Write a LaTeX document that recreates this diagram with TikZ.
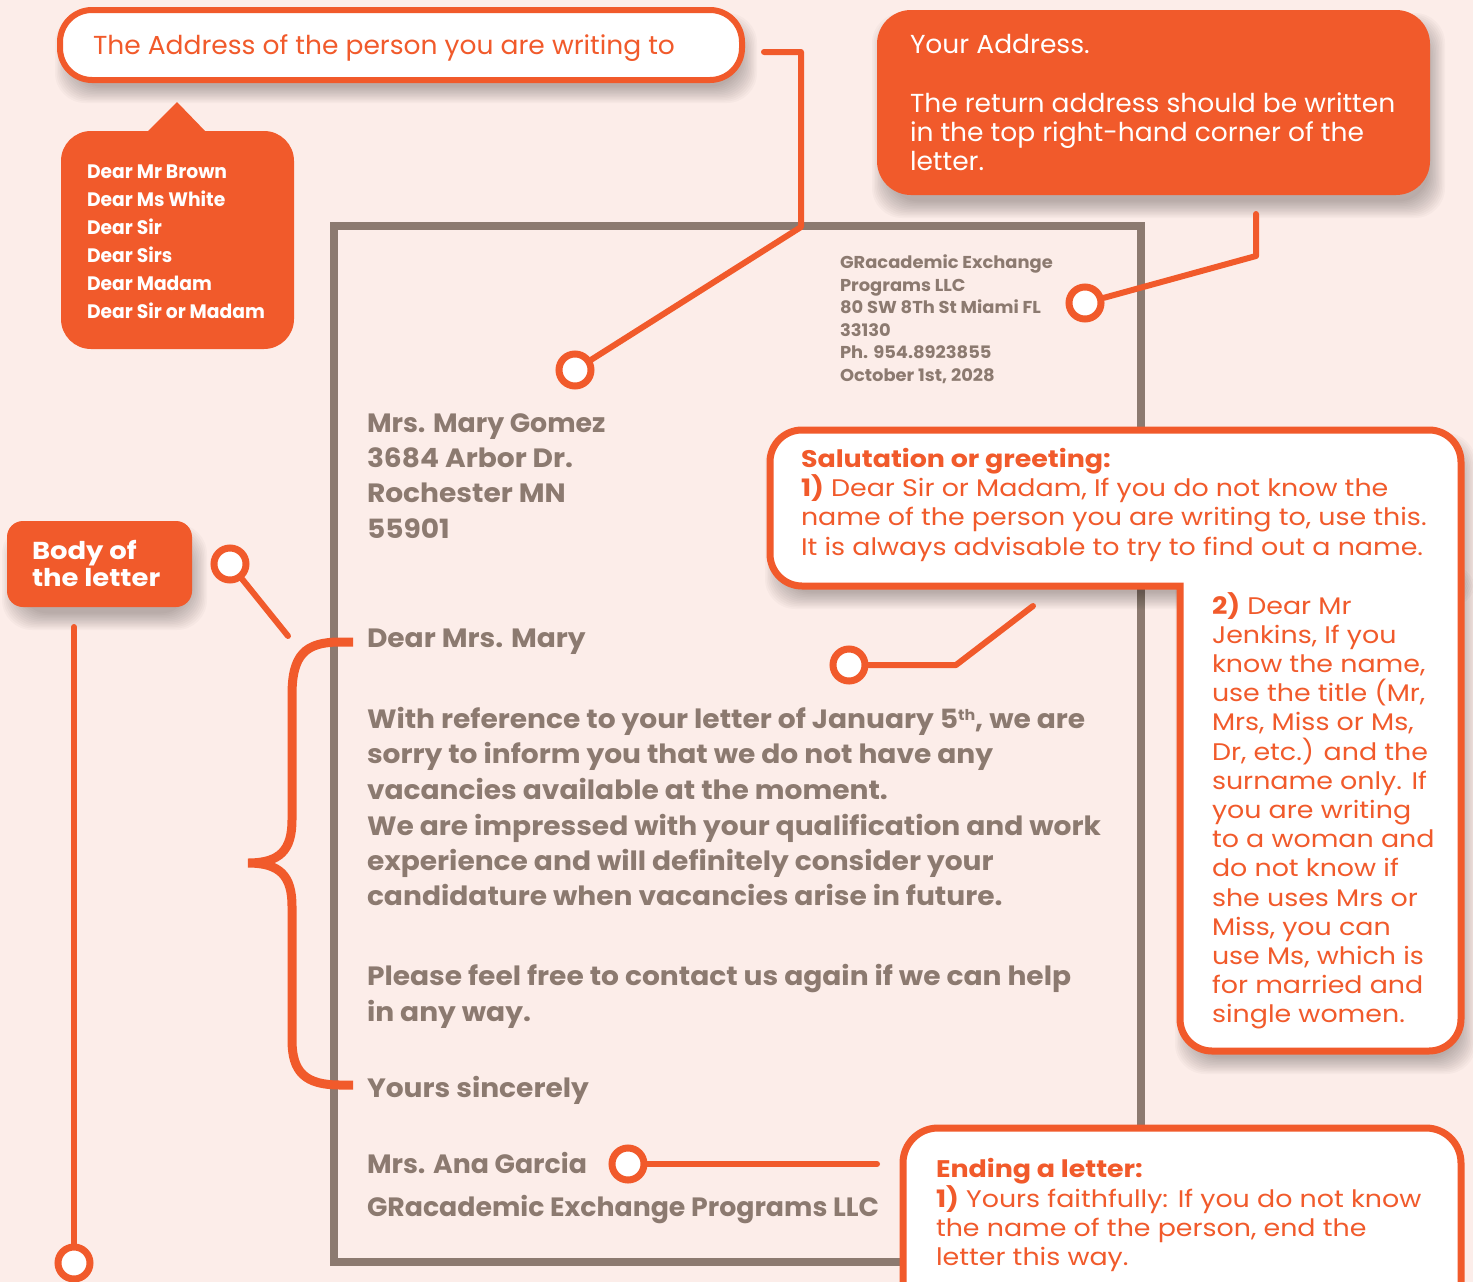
\documentclass[tikz,border=0pt]{standalone}
\usepackage{fontspec}
\setmainfont{Poppins}
\newfontfamily\regf{Poppins}[FakeStretch=1.02]
\newfontfamily\notef{Poppins}[FakeStretch=1.12]
\newfontfamily\letf{Poppins}[FakeStretch=1.06]
\newfontfamily\letn{Poppins}[FakeStretch=1.01]
\newfontfamily\smallf{Poppins}[FakeStretch=1.04]
\newfontfamily\condf{Poppins}[FakeStretch=0.96]
\newfontfamily\labf{Poppins}[FakeStretch=1.12]
\definecolor{bg}{HTML}{FCEDE9}
\definecolor{org}{HTML}{F15A2B}
\definecolor{gry}{HTML}{8C7A70}
\newcommand\fsz[2]{\fontsize{#1}{#2}\selectfont}
\newcommand\supth{{\fsz{15}{15}\raisebox{8pt}{th}}}
% soft drop shadow made of stacked translucent rounded rectangles
\newcommand\softshadow[4]{%
  \foreach \k in {0,...,11}
    \fill[black,opacity=0.024,rounded corners=30pt]
      ({#1-10+1.5*\k+5},{#2-10+1.5*\k+13}) rectangle ({#3+10-1.5*\k+5},{#4+10-1.5*\k+13});}
\begin{document}
\begin{tikzpicture}[x=1pt,y=-1pt,
  txt/.style={anchor=base west,inner sep=0pt,outer sep=0pt},
  dot/.style={circle,draw=org,fill=white,line width=7pt,minimum size=32pt,inner sep=0pt},
  conn/.style={draw=org,line width=6pt,line cap=round,line join=round},
  lettertxt/.style={txt,text=gry,font=\letf\bfseries\fsz{26.5}{30}},
  letternarrow/.style={txt,text=gry,font=\letn\bfseries\fsz{26.5}{30}},
  smalltxt/.style={txt,text=gry,font=\smallf\bfseries\fsz{17.2}{20}},
  notetxt/.style={txt,text=org,font=\notef\fsz{24}{28}},
  whitetxt/.style={txt,text=white,font=\regf\fsz{26}{30}},
  listtxt/.style={txt,text=white,font=\condf\bfseries\fsz{19.5}{22}}]
\useasboundingbox (0,0) rectangle (1473,1282);
\fill[bg] (0,0) rectangle (1473,1282);

% letter frame
\draw[gry,line width=8pt] (334,226) rectangle (1141,1262);

% shadows
\softshadow{60}{10}{742}{80}
\softshadow{877}{10}{1430}{195}
\softshadow{770}{430}{1461}{586}
\softshadow{1180}{560}{1461}{1051}
\softshadow{7}{521}{192}{607}

% top-left address box
\node[draw=org,fill=white,line width=6pt,rounded corners=32pt,minimum width=682pt,minimum height=70pt,inner sep=0pt] (addr) at (401,45) {};
\node[txt,text=org,font=\regf\fsz{26}{30}] (addrt) at (93,54) {The Address of the person you are writing to};

% speech bubble with salutations
\node[fill=org,rounded corners=30pt,minimum width=233pt,minimum height=218pt,inner sep=0pt] (bubble) at (177.5,240) {};
\fill[org] (146,133) -- (177,102) -- (207,133) -- cycle;
\foreach \t [count=\i] in {Dear Mr Brown,Dear Ms White,Dear Sir,Dear Sirs,Dear Madam,Dear Sir or Madam}
  \node[listtxt] (l\i) at (87,{178+28*(\i-1)}) {\t};

% top-right return address box
\node[fill=org,rounded corners=34pt,minimum width=553pt,minimum height=185pt,inner sep=0pt] (ret) at (1153.5,102.5) {};
\foreach \y/\t [count=\i] in {53/{Your Address.},112/{The return address should be written},141/{in the top right-hand corner of the},170/{letter.}}
  \node[whitetxt] (rt\i) at (910,\y) {\t};

% return address in letter
\foreach \y/\t [count=\i] in {268/{GRacademic Exchange},291/{Programs LLC},313/{80 SW 8Th St Miami FL},336/{33130},358/{Ph. 954.8923855},381/{October 1st, 2028}}
  \node[smalltxt] (ra\i) at (840,\y) {\t};

% recipient
\node[letternarrow] (rc1) at (367,432) {Mrs. Mary Gomez};
\foreach \y/\t [count=\i from 2] in {467/{3684 Arbor Dr.},502/{Rochester MN},538/{55901}}
  \node[lettertxt] (rc\i) at (367,\y) {\t};

% body of letter
\foreach \y/\t [count=\i] in {647/{Dear Mrs. Mary},728/{With reference to your letter of January 5\supth, we are},763/{sorry to inform you that we do not have any},799/{vacancies available at the moment.},835/{We are impressed with your qualification and work},870/{experience and will definitely consider your},905/{candidature when vacancies arise in future.},985/{Please feel free to contact us again if we can help},1021/{in any way.},1097/{Yours sincerely}}
  \node[lettertxt] (b\i) at (367,\y) {\t};
\node[letternarrow] (b11) at (367,1173) {Mrs. Ana Garcia};
\node[letternarrow] (b12) at (367,1216) {GRacademic Exchange Programs LLC};

% salutation box (L shape)
\path[draw=org,fill=white,line width=7pt]
  (770,500) -- (770,462) arc (180:270:32) -- (1429,430) arc (270:360:32)
  -- (1461,1019) arc (0:90:32) -- (1212,1051) arc (90:180:32)
  -- (1180,586) -- (802,586) arc (90:180:32) -- cycle;
\foreach \y/\t [count=\i] in {467/{{\bfseries Salutation or greeting:}},496/{{\bfseries 1)} Dear Sir or Madam, If you do not know the},525.5/{name of the person you are writing to, use this.},555/{It is always advisable to try to find out a name.}}
  \node[notetxt] (s\i) at (801,\y) {\t};
\foreach \t [count=\i] in {{{\bfseries 2)} Dear Mr},{Jenkins, If you},{know the name,},{use the title (Mr,},{Mrs, Miss or Ms,},{Dr, etc.) and the},{surname only. If},{you are writing},{to a woman and},{do not know if},{she uses Mrs or},{Miss, you can},{use Ms, which is},{for married and},{single women.}}
  \node[notetxt] (c\i) at (1212,{614+29.2*(\i-1)}) {\t};

% ending box
\path[draw=org,fill=white,line width=7pt]
  (903,1330) -- (903,1163) arc (180:270:35) -- (1426,1128) arc (270:360:35) -- (1461,1330);
\foreach \y/\t [count=\i] in {1177/{{\bfseries Ending a letter:}},1207/{{\bfseries 1)} Yours faithfully: If you do not know},1236/{the name of the person, end the},1265/{letter this way.}}
  \node[notetxt] (e\i) at (936,\y) {\t};

% body-of-letter label
\node[fill=org,rounded corners=16pt,minimum width=185pt,minimum height=86pt,inner sep=0pt] (bodyl) at (99.5,564) {};
\node[txt,text=white,font=\labf\bfseries\fsz{24.5}{27}] (bl1) at (32,559) {Body of};
\node[txt,text=white,font=\labf\bfseries\fsz{24.5}{27}] (bl2) at (32,586) {the letter};

% brace
\draw[org,line width=9pt] (353,642) -- (340,642) .. controls (305,642) and (292,655) .. (292,695)
  -- (292,820) .. controls (292,850) and (280,863) .. (248,863)
  .. controls (280,863) and (292,876) .. (292,906)
  -- (292,1040) .. controls (292,1072) and (305,1085) .. (340,1085) -- (353,1085);

% dots
\node[dot] (d1) at (575,370) {};
\node[dot] (d2) at (1085,303) {};
\node[dot] (d3) at (849,665) {};
\node[dot] (d4) at (230,564) {};
\node[dot] (d5) at (74,1263) {};
\node[dot] (d6) at (628,1164) {};

% connector points
\coordinate (p1a) at (764,52);
\coordinate (p1b) at (801,52);
\coordinate (p1c) at (801,227);
\coordinate (p2a) at (1256,214);
\coordinate (p2b) at (1256,256);
\coordinate (p3a) at (1033,606);
\coordinate (p3b) at (956,665);
\coordinate (p4a) at (288,636);
\coordinate (p5a) at (74,627);
\coordinate (p6a) at (877,1164);

\draw[conn] (p1a) -- (p1b) -- (p1c) -- (d1);
\draw[conn] (p2a) -- (p2b) -- (d2);
\draw[conn] (p3a) -- (p3b) -- (d3);
\draw[conn] (d4) -- (p4a);
\draw[conn] (p5a) -- (d5);
\draw[conn] (d6) -- (p6a);
\end{tikzpicture}
\end{document}
